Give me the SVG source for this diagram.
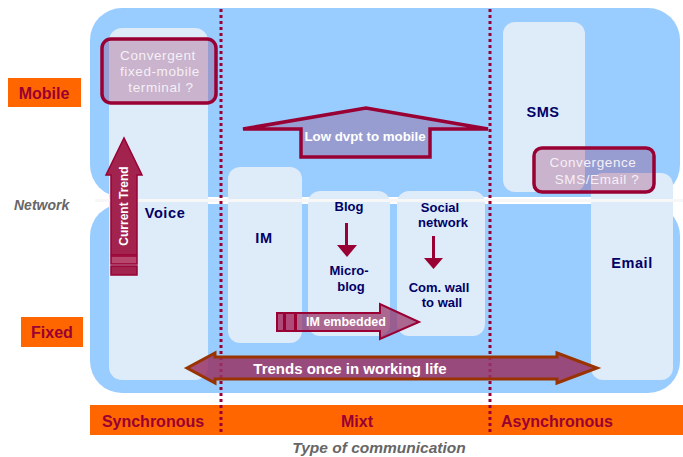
<svg xmlns="http://www.w3.org/2000/svg" width="683" height="457" viewBox="0 0 683 457">
<defs>
<style>
.band{fill:#99ccff}
.col{fill:#deebf9}
.lbl{font-family:"Liberation Sans",Arial,sans-serif;font-weight:bold;font-size:13px;fill:#000066;text-anchor:middle}
.big{font-size:14.5px;letter-spacing:0.6px}
.ax{font-family:"Liberation Sans",Arial,sans-serif;font-weight:bold;font-size:16px;fill:#990033;text-anchor:middle}
.q{fill:#993366;fill-opacity:0.3;stroke:#990033;stroke-width:3.5}
.qt{font-family:"Liberation Sans",Arial,sans-serif;font-size:13.5px;letter-spacing:0.6px;fill:#f6f0f6;text-anchor:middle}
.wt{font-family:"Liberation Sans",Arial,sans-serif;font-weight:bold;fill:#ffffff;text-anchor:middle}
.dot{stroke:#990033;stroke-width:3;stroke-dasharray:3 3;fill:none}
.gray{font-family:"Liberation Sans",Arial,sans-serif;font-weight:bold;font-style:italic;fill:#666666}
</style>
</defs>
<rect width="683" height="457" fill="#ffffff"/>
<g id="bands">
<rect class="band" x="90" y="8" width="590" height="189" rx="32"/>
<rect class="band" x="90" y="204" width="590" height="189" rx="32"/>
</g>
<g id="columns">
<rect id="voice-col" class="col" x="109" y="28" width="99" height="352" rx="13"/>
<rect id="im-col" class="col" x="228" y="167" width="74" height="176" rx="12"/>
<rect id="blog-col" class="col" x="308" y="191" width="82" height="145" rx="12"/>
<rect id="social-col" class="col" x="397" y="191" width="88" height="145" rx="12"/>
<rect id="sms-col" class="col" x="503" y="22" width="82" height="170" rx="12"/>
<rect id="email-col" class="col" x="591" y="173" width="82" height="207" rx="12"/>
</g>
<rect id="network-line" x="95" y="199" width="588" height="3" fill="#f7f7f7"/>
<g id="axis">
<g id="mobile"><rect x="8" y="78" width="73" height="29" fill="#ff6600"/><text class="ax" x="44" y="98.5">Mobile</text></g>
<g id="fixed"><rect x="21" y="317" width="62" height="30" fill="#ff6600"/><text class="ax" x="52" y="338">Fixed</text></g>
<g id="network"><text class="gray" x="14" y="210" font-size="14">Network</text></g>
<g id="comm-bar">
<rect x="90" y="405" width="593" height="30" fill="#ff6600"/>
<text class="ax" x="153" y="427" font-size="17.5">Synchronous</text>
<text class="ax" x="357" y="427" font-size="17.5">Mixt</text>
<text class="ax" x="557" y="427" font-size="17.5">Asynchronous</text>
</g>
<text class="gray" x="379" y="453" text-anchor="middle" font-size="15.5">Type of communication</text>
</g>
<g id="dividers">
<line class="dot" x1="221" y1="9" x2="221" y2="435"/>
<line class="dot" x1="490" y1="9" x2="490" y2="435"/>
</g>
<g id="voice"><text class="lbl big" x="165" y="218" font-size="15">Voice</text></g>
<g id="im"><text class="lbl big" x="264" y="243">IM</text></g>
<g id="blog"><text class="lbl" x="349" y="211">Blog</text></g>
<g id="microblog"><text class="lbl" x="349" y="275">Micro-</text><text class="lbl" x="351" y="291">blog</text></g>
<g id="social"><text class="lbl" x="440" y="212">Social</text><text class="lbl" x="443" y="227">network</text></g>
<g id="comwall"><text class="lbl" x="439" y="292">Com. wall</text><text class="lbl" x="442" y="307">to wall</text></g>
<g id="sms"><text class="lbl big" x="543" y="117">SMS</text></g>
<g id="email"><text class="lbl big" x="632" y="268">Email</text></g>
<g id="convergent">
<rect class="q" x="102" y="39" width="114" height="64" rx="9"/>
<text class="qt" x="158" y="60">Convergent</text>
<text class="qt" x="160" y="76">fixed-mobile</text>
<text class="qt" x="161" y="92">terminal ?</text>
</g>
<g id="convergence">
<rect class="q" x="534" y="148" width="120" height="44" rx="8"/>
<text class="qt" x="593" y="167">Convergence</text>
<text class="qt" x="597" y="184">SMS/Email ?</text>
</g>
<g id="connectors">
<g id="low-dvpt">
<path class="q" d="M301 157 L301 129 L243 129 L366 108 L488 129 L430 129 L430 157 Z" stroke-width="3"/>
<text class="wt" x="365" y="140.5" font-size="13.3">Low dvpt to mobile</text>
</g>
<g id="current-trend">
<path d="M111 255 L111 175 L106 175 L124 138 L142 175 L137 175 L137 255 Z" fill="#a3234f" stroke="#990033" stroke-width="1.5"/>
<rect x="111" y="256" width="26" height="8" fill="#b8476e" stroke="#990033" stroke-width="1.5"/>
<rect x="111" y="266" width="26" height="9" fill="#a3234f" stroke="#990033" stroke-width="1.5"/>
<text class="wt" font-weight="normal" font-size="12" transform="translate(128,206) rotate(-90)">Current Trend</text>
</g>
<g id="blog-arrow" fill="#990033">
<rect x="345" y="223" width="3" height="22"/>
<path d="M337 245 L357 245 L347 257 Z"/>
</g>
<g id="social-arrow" fill="#990033">
<rect x="432" y="236" width="3" height="22"/>
<path d="M424 258 L443 258 L433.5 269 Z"/>
</g>
<g id="im-embedded">
<path d="M296 313 L380 313 L380 304 L419 322 L380 339 L380 331 L296 331 Z" fill="#993366" fill-opacity="0.72" stroke="#990033" stroke-width="2"/>
<rect x="277" y="313" width="7" height="18" fill="#b04a78" stroke="#990033" stroke-width="2"/>
<rect x="285" y="313" width="10" height="18" fill="#b04a78" stroke="#990033" stroke-width="2"/>
<text class="wt" x="346" y="326" font-size="12.5">IM embedded</text>
</g>
<g id="trends">
<path d="M187 368 L215 353 L215 357 L557 357 L557 353 L597 368 L557 383 L557 379 L215 379 L215 383 Z" fill="#993366" fill-opacity="0.85" stroke="#993300" stroke-width="3"/>
<text class="wt" x="350" y="373.5" font-size="15">Trends once in working life</text>
</g>
</g>
</svg>
